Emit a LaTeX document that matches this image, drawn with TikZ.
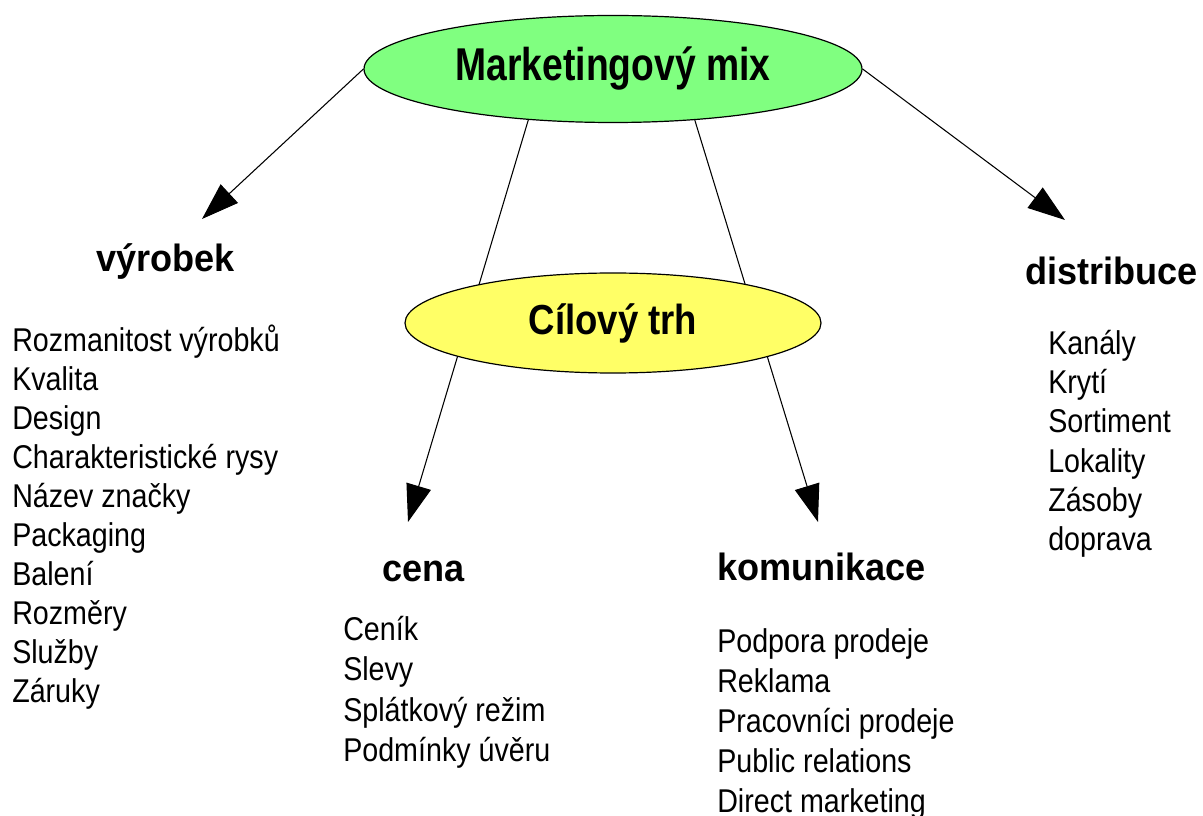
\documentclass[tikz,border=0pt]{standalone}
\usepackage{fontspec}
\usetikzlibrary{arrows.meta,shapes.geometric,backgrounds}
\setmainfont{Liberation Sans}
\newfontfamily\fTitle{Liberation Sans}[FakeStretch=0.81]
\newfontfamily\fTrh{Liberation Sans}[FakeStretch=0.87]
\newfontfamily\fHead{Liberation Sans}[FakeStretch=0.95]
\newfontfamily\fList{Liberation Sans}[FakeStretch=0.87]
\definecolor{mixgreen}{RGB}{128,255,128}
\definecolor{trhyellow}{RGB}{255,255,102}
\begin{document}
\begin{tikzpicture}[x=0.75pt,y=-0.75pt,
  blob/.style={ellipse, draw=black, line width=0.9pt, inner sep=0pt},
  head/.style={anchor=base west, inner sep=0pt, font=\fHead\bfseries\fontsize{28.5}{34}\selectfont},
  item/.style={anchor=base west, inner sep=0pt, font=\fList\fontsize{24.7}{29}\selectfont},
  link/.style={line width=0.8pt, -{Triangle[length=28pt,width=19pt]}}]
\useasboundingbox (0,0) rectangle (1203,816);

\node[blob, fill=mixgreen, minimum width=373.5pt, minimum height=80.25pt,
      font=\fTitle\bfseries\fontsize{34.5}{40}\selectfont] (mix) at (613,69) {Marketingový mix};
\node[blob, fill=trhyellow, minimum width=312pt, minimum height=75pt,
      font=\fTrh\bfseries\fontsize{31.5}{37}\selectfont] (trh) at (613,323) {Cílový trh};

\node[head] (vyrobek) at (96,272) {výrobek};
\node[head] (cena) at (382,581) {cena};
\node[head] (komunikace) at (717,580) {komunikace};
\node[head] (distribuce) at (1025,285) {distribuce};

\foreach \t [count=\i] in {Rozmanitost výrobků, Kvalita, Design, Charakteristické rysy, Název značky, Packaging, Balení, Rozměry, Služby, Záruky}
  \node[item] (v\i) at (12,{352+38.9*(\i-1)}) {\t};
\foreach \t [count=\i] in {Ceník, Slevy, Splátkový režim, Podmínky úvěru}
  \node[item] (c\i) at (343,{640+40.6*(\i-1)}) {\t};
\foreach \t [count=\i] in {Podpora prodeje, Reklama, Pracovníci prodeje, Public relations, Direct marketing}
  \node[item] (k\i) at (717,{652+40*(\i-1)}) {\t};
\foreach \t [count=\i] in {Kanály, Krytí, Sortiment, Lokality, Zásoby, doprava}
  \node[item] (d\i) at (1048,{355+39*(\i-1)}) {\t};

\coordinate (tV) at (202,219);
\coordinate (tD) at (1065,220);
\coordinate (tC) at (408,522);
\coordinate (tK) at (818,522);

\begin{scope}[on background layer]
\draw[link] (mix.west) -- (tV);
\draw[link] (mix.east) -- (tD);
\draw[link] (mix.211.6) -- (tC);
\draw[link] (mix.328.7) -- (tK);
\end{scope}
\end{tikzpicture}
\end{document}
